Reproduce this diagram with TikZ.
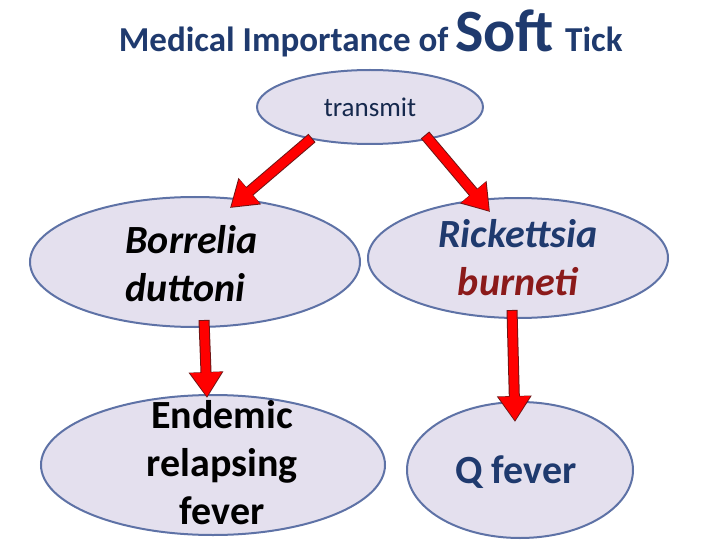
\documentclass[tikz,border=0pt]{standalone}
\usepackage{fontspec}
\setmainfont{Carlito}
\usetikzlibrary{arrows.meta,shapes.geometric,calc}
\definecolor{tblue}{HTML}{1F3A6E}
\definecolor{efill}{HTML}{E4E0EE}
\definecolor{edraw}{HTML}{5E72A6}
\definecolor{dred}{HTML}{8B1A1A}
\begin{document}
\begin{tikzpicture}[x=1pt,y=-1pt,
  ell/.style={ellipse,fill=efill,draw=edraw,line width=2pt,inner sep=0pt},
  arr/.style={line width=9pt,draw=red,-{Triangle[length=24pt,width=30pt]}}]
\useasboundingbox (0,0) rectangle (720,540);
\node[anchor=base east,text=tblue,font=\fontsize{35}{40}\selectfont\bfseries] (t1) at (452,52) {Medical Importance of};
\node[anchor=base west,text=tblue,font=\fontsize{60}{64}\selectfont\bfseries,inner sep=0pt] (t2) at (455,52) {Soft};
\node[anchor=base west,text=tblue,font=\fontsize{35}{40}\selectfont\bfseries,inner sep=0pt] (t3) at (565,52) {Tick};
\node[ell,minimum width=226pt,minimum height=74pt] (top) at (370,107) {};
\node[text=tblue!70!black,font=\fontsize{27}{30}\selectfont] (tt) at (370,107) {transmit};
\node[ell,minimum width=330pt,minimum height=130pt] (l) at (195,262) {};
\node[font=\fontsize{40}{48}\selectfont\bfseries\itshape,align=left,anchor=west] (lt) at (122,264) {Borrelia\\duttoni};
\node[ell,minimum width=300pt,minimum height=120pt] (r) at (518,258) {};
\node[font=\fontsize{40}{48}\selectfont\bfseries\itshape,align=center] (rt) at (518,258) {\textcolor{tblue}{Rickettsia}\\\textcolor{dred}{burneti}};
\node[ell,minimum width=344pt,minimum height=140pt] (bl) at (213,465) {};
\node[font=\fontsize{40}{48}\selectfont\bfseries,align=center] (blt) at (222,463) {Endemic\\relapsing\\fever};
\node[ell,minimum width=226pt,minimum height=136pt] (br) at (520,470) {};
\node[text=tblue,font=\fontsize{40}{48}\selectfont\bfseries] (brt) at (516,472) {Q fever};
\coordinate (a1) at (312,138); \coordinate (b1) at (230,208);
\coordinate (a2) at (425,135); \coordinate (b2) at (490,212);
\coordinate (a3) at (204,320); \coordinate (b3) at (207,398);
\coordinate (a4) at (512,310); \coordinate (b4) at (515,422);
\foreach \s/\e in {a1/b1,a2/b2,a3/b3,a4/b4}{
  \draw[line width=11pt,draw=dred!80!black,-{Triangle[length=26pt,width=33pt]}] (\s) -- (\e);
  \draw[arr,shorten >=1.5pt] ($(\s)!1pt!(\e)$) -- (\e);
}
\end{tikzpicture}
\end{document}
